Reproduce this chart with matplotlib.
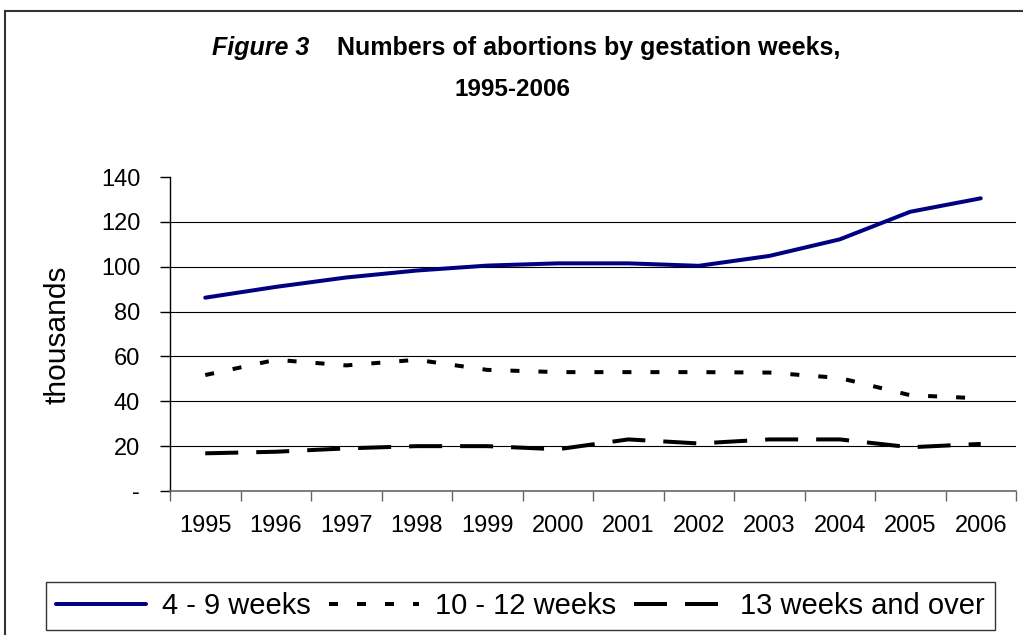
import matplotlib
matplotlib.use("Agg")
import matplotlib.pyplot as plt
from matplotlib.lines import Line2D
import numpy as np

years = ["1995", "1996", "1997", "1998", "1999", "2000", "2001", "2002", "2003", "2004", "2005", "2006"]
weeks_4_9 = [86.2, 91.0, 95.2, 98.3, 100.5, 101.5, 101.5, 100.4, 104.8, 112.2, 124.5, 130.5]
weeks_10_12 = [51.7, 58.5, 56.0, 58.5, 54.0, 53.0, 53.0, 53.0, 52.8, 50.4, 42.7, 41.3]
weeks_13_over = [16.8, 17.5, 19.0, 20.0, 20.0, 18.6, 23.0, 21.2, 23.0, 23.0, 19.5, 21.0]
series_labels = ["4 - 9 weeks", "10 - 12 weeks", "13 weeks and over"]
yticks = [0, 20, 40, 60, 80, 100, 120, 140]
ytick_labels = ["-", "20", "40", "60", "80", "100", "120", "140"]

plt.rcParams['font.family'] = ['Liberation Sans', 'DejaVu Sans']

W, H = 1023, 635
fig = plt.figure(figsize=(W / 100, H / 100), dpi=100)

def fx(px):
    return px / W

def fy(py):
    return 1 - py / H

ax = fig.add_axes([fx(170), fy(491), fx(1016) - fx(170), fy(177) - fy(491)])

x = np.arange(len(years)) + 0.5
lw_px = 4.0
lw = lw_px * 0.72

ax.plot(x, weeks_4_9, color="#000080", lw=lw, solid_capstyle="round", label=series_labels[0])
l2, = ax.plot(x, weeks_10_12, color="black", lw=lw, label=series_labels[1])
l2.set_dashes([9 / lw_px, 19 / lw_px])
l2.set_dash_capstyle("butt")
l3, = ax.plot(x, weeks_13_over, color="black", lw=lw, label=series_labels[2])
l3.set_dashes([33 / lw_px, 18 / lw_px])
l3.set_dash_capstyle("butt")

ax.set_xlim(0, len(years))
ax.set_ylim(0, 140)
ax.set_yticks(yticks)
ax.set_yticklabels(ytick_labels)
for v in yticks[1:-1]:
    ax.axhline(v, color="black", lw=0.8, zorder=0)

ax.set_xticks(np.arange(len(years) + 1))
ax.set_xticklabels([])
ax.set_xticks(x, minor=True)
ax.set_xticklabels(years, minor=True)
ax.tick_params(axis="x", which="major", direction="out", length=7, width=1, color="#666666")
ax.tick_params(axis="x", which="minor", length=0, pad=17, labelsize=17)
ax.tick_params(axis="y", direction="out", length=7, width=1, pad=14.5, labelsize=17)

for s in ["top", "right"]:
    ax.spines[s].set_visible(False)
ax.spines["left"].set_color("black")
ax.spines["bottom"].set_color("#666666")
ax.spines["left"].set_linewidth(1)
ax.spines["bottom"].set_linewidth(1.2)

ax.set_ylabel("thousands", fontsize=21.5)
ax.yaxis.set_label_coords(fx(71), fy(335), transform=fig.transFigure)

# title (first line composed of two parts, centred as a whole)
t1 = fig.text(0, fy(48), "Figure 3", fontsize=18, fontweight="bold", fontstyle="italic", va="center", ha="left")
t2 = fig.text(0, fy(48), "Numbers of abortions by gestation weeks,", fontsize=18, fontweight="bold", va="center", ha="left")
renderer = fig.canvas.get_renderer()
w1 = t1.get_window_extent(renderer).width
w2 = t2.get_window_extent(renderer).width
gap = 28
start = 526 - (w1 + gap + w2) / 2
t1.set_x(fx(start))
t2.set_x(fx(start + w1 + gap))
fig.text(fx(512), fy(90), "1995-2006", fontsize=17.5, fontweight="bold", va="center", ha="center")

# outer border
fig.add_artist(Line2D([fx(5), fx(5)], [fy(11), fy(640)], color="#333333", lw=1.5, transform=fig.transFigure))
fig.add_artist(Line2D([fx(5), fx(1030)], [fy(11), fy(11)], color="#333333", lw=1.5, transform=fig.transFigure))

leg = fig.legend(loc="center", bbox_to_anchor=(fx(520.5), fy(606)), ncol=3, fontsize=21,
                 handlelength=3.1, columnspacing=0.6, handletextpad=0.55, frameon=True,
                 fancybox=False, edgecolor="black", borderpad=0.35, borderaxespad=0)
leg.get_frame().set_linewidth(1.0)

fig.savefig("out.png", dpi=100)
